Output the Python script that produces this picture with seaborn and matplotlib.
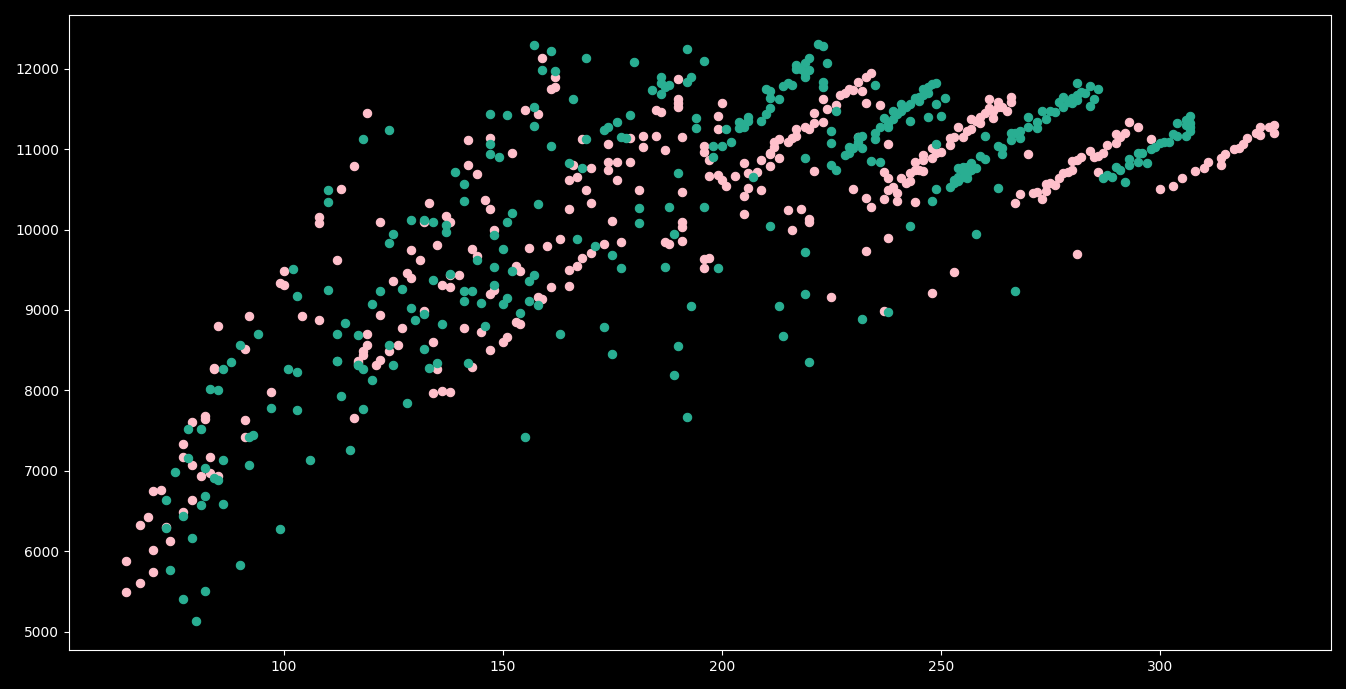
import matplotlib
matplotlib.use("Agg")
import matplotlib.pyplot as plt
import pandas as pd
import seaborn as sns

# values: (x, y)
pink_points = [
    (64, 5493), (64, 5880), (67, 5607), (70, 5740), (70, 6017), (67, 6330), (69, 6420), (70, 6750),
    (72, 6760), (74, 6130), (73, 6300), (77, 6490), (79, 6640), (81, 6930), (85, 6940), (83, 6970),
    (79, 7070), (77, 7170), (83, 7170), (77, 7330), (91, 7420), (91, 7630), (79, 7610), (82, 7650),
    (82, 7680), (97, 7980), (84, 8280), (91, 8520), (116, 7660), (117, 8340), (119, 11450), (116, 10790),
    (113, 10500), (108, 10160), (108, 10080), (122, 10100), (133, 10330), (142, 11110), (147, 11140),
    (155, 11490), (158, 11440), (152, 10950), (142, 10800), (144, 10690), (146, 10370), (147, 10250),
    (137, 10170), (138, 10100), (132, 10100), (112, 9620), (135, 9810), (129, 9740), (131, 9620),
    (143, 9760), (148, 9990), (156, 9770), (160, 9790), (144, 9670), (128, 9460), (129, 9400),
    (125, 9360), (136, 9310), (138, 9290), (140, 9440), (138, 9440), (153, 9550), (154, 9490),
    (147, 9200), (148, 9250), (104, 8930), (108, 8880), (122, 8940), (132, 8990), (127, 8780),
    (141, 8770), (145, 8730), (153, 8850), (154, 8830), (158, 9160), (159, 9140), (161, 9280),
    (119, 8700), (119, 8570), (118, 8490), (118, 8440), (117, 8370), (126, 8560), (124, 8490),
    (122, 8380), (121, 8310), (134, 8600), (151, 8670), (150, 8600), (147, 8500), (143, 8290),
    (135, 8260), (134, 7970), (136, 7990), (138, 7980), (99, 9340), (100, 9490), (100, 9310),
    (92, 8920), (85, 8800), (84, 8270), (159, 12130), (162, 11900), (162, 11770), (161, 11750),
    (168, 11130), (179, 11140), (182, 11160), (185, 11160), (182, 11030), (174, 11060), (187, 10990),
    (191, 11150), (190, 11870), (190, 11630), (190, 11580), (190, 11530), (185, 11490), (186, 11460),
    (200, 11570), (199, 11410), (199, 11250), (196, 11040), (196, 10970), (197, 10870), (197, 10670),
    (199, 10680), (200, 10620), (201, 10540), (203, 10670), (205, 10830), (206, 10700), (208, 10720),
    (209, 10860), (211, 10950), (211, 10790), (206, 10520), (205, 10420), (209, 10490), (205, 10200),
    (166, 10800), (170, 10770), (174, 10840), (176, 10840), (179, 10840), (174, 10740), (165, 10620),
    (167, 10660), (176, 10620), (169, 10490), (181, 10490), (191, 10470), (170, 10330), (165, 10260),
    (175, 10110), (191, 10100), (191, 10030), (163, 9880), (177, 9850), (173, 9820), (170, 9710),
    (168, 9650), (167, 9550), (165, 9500), (165, 9300), (187, 9850), (188, 9820), (191, 9860),
    (196, 9640), (197, 9650), (196, 9520), (213, 10890), (211, 10940), (212, 11030), (212, 11090),
    (213, 11130), (215, 11090), (216, 11140), (217, 11250), (217, 11170), (219, 11280), (220, 11250),
    (221, 11450), (221, 11330), (223, 11340), (223, 11630), (224, 11500), (226, 11550), (227, 11670),
    (228, 11700), (229, 11750), (230, 11740), (231, 11830), (232, 11720), (233, 11900), (234, 11950),
    (233, 11580), (236, 11550), (231, 11150), (238, 11070), (215, 10240), (218, 10260), (220, 10130),
    (220, 10090), (216, 9990), (221, 10730), (230, 10500), (233, 10390), (234, 10280), (238, 9900),
    (237, 10380), (240, 10350), (244, 10340), (237, 10720), (238, 10640), (239, 10530), (238, 10490),
    (240, 10460), (241, 10640), (242, 10580), (243, 10610), (243, 10710), (244, 10840), (244, 10740),
    (246, 10730), (245, 10740), (246, 10930), (246, 10870), (248, 11020), (248, 10890), (250, 10970),
    (249, 10950), (252, 11050), (253, 11150), (252, 11140), (255, 11150), (254, 11280), (257, 11370),
    (257, 11250), (259, 11330), (259, 11400), (261, 11630), (261, 11510), (262, 11390), (263, 11590),
    (263, 11530), (265, 11480), (266, 11650), (266, 11590), (258, 11350), (260, 11450), (262, 11470),
    (256, 11230), (264, 11530), (270, 10940), (267, 10330), (268, 10440), (271, 10460), (272, 10470),
    (273, 10380), (274, 10480), (274, 10570), (275, 10580), (276, 10560), (277, 10640), (278, 10700),
    (279, 10720), (280, 10740), (280, 10850), (281, 10870), (282, 10900), (284, 10980), (285, 10900),
    (286, 10910), (287, 10950), (288, 11050), (290, 11080), (290, 11190), (291, 11150), (292, 11200),
    (293, 11340), (295, 11280), (286, 10720), (298, 11130), (300, 10510), (303, 10540), (305, 10640),
    (308, 10730), (310, 10770), (311, 10840), (314, 10800), (314, 10890), (315, 10940), (317, 11000),
    (318, 11010), (319, 11070), (320, 11140), (322, 11200), (323, 11280), (323, 11180), (325, 11270),
    (326, 11300), (326, 11200), (237, 8990), (225, 9160), (253, 9470), (248, 9210), (281, 9700),
    (233, 9730),
]

teal_points = [
    (80, 5130), (77, 5400), (82, 5510), (74, 5770), (90, 5830), (99, 6270), (79, 6170), (73, 6290),
    (77, 6440), (81, 6570), (86, 6590), (82, 6690), (73, 6640), (85, 6890), (84, 6910), (75, 6980),
    (82, 7030), (78, 7160), (86, 7140), (92, 7070), (106, 7140), (115, 7260), (78, 7520), (81, 7520),
    (92, 7420), (93, 7440), (97, 7780), (103, 7750), (113, 7930), (83, 8020), (85, 8010), (86, 8270),
    (88, 8350), (90, 8560), (101, 8270), (103, 8230), (112, 8370), (117, 8320), (118, 7770), (94, 8700),
    (124, 11240), (118, 11130), (110, 10490), (110, 10340), (147, 11440), (151, 11420), (157, 11520),
    (157, 11290), (147, 11070), (147, 10940), (149, 10900), (161, 11040), (139, 10720), (141, 10570),
    (141, 10360), (158, 10320), (152, 10210), (151, 10100), (129, 10120), (132, 10120), (134, 10100),
    (137, 10060), (137, 9970), (125, 9950), (124, 9830), (148, 9930), (150, 9760), (144, 9620),
    (148, 9530), (152, 9480), (157, 9430), (156, 9360), (138, 9450), (134, 9370), (148, 9310),
    (122, 9240), (127, 9260), (110, 9250), (103, 9180), (102, 9510), (120, 9080), (141, 9240),
    (143, 9240), (141, 9110), (145, 9090), (151, 9150), (150, 9070), (156, 9110), (158, 9060),
    (114, 8840), (112, 8700), (117, 8690), (112, 8370), (117, 8320), (118, 8260), (120, 8130),
    (125, 8320), (124, 8570), (132, 8520), (136, 8830), (132, 8950), (129, 9030), (130, 8880),
    (146, 8800), (135, 8340), (133, 8280), (142, 8340), (128, 7840), (155, 7420), (154, 8960),
    (163, 8700), (157, 12290), (161, 12220), (159, 11990), (162, 11970), (169, 12130), (180, 12080),
    (192, 12250), (196, 12100), (166, 11630), (186, 11900), (186, 11820), (187, 11770), (188, 11800),
    (184, 11730), (186, 11690), (193, 11900), (192, 11840), (179, 11430), (176, 11340), (174, 11280),
    (173, 11240), (169, 11130), (177, 11150), (178, 11140), (194, 11390), (194, 11260), (201, 11250),
    (198, 11040), (200, 11040), (202, 11090), (198, 10900), (165, 10830), (168, 10770), (190, 10700),
    (207, 10650), (181, 10270), (181, 10080), (188, 10280), (196, 10280), (189, 9950), (167, 9880),
    (171, 9790), (175, 9680), (177, 9520), (187, 9530), (199, 9520), (211, 10050), (206, 11400),
    (204, 11340), (204, 11260), (205, 11280), (206, 11350), (205, 11310), (209, 11350), (210, 11440),
    (210, 11750), (211, 11640), (211, 11510), (222, 12310), (223, 12280), (224, 12070), (220, 12130),
    (219, 12070), (217, 12050), (217, 12000), (218, 12000), (219, 11950), (220, 11980), (219, 11900),
    (223, 11830), (223, 11770), (215, 11820), (214, 11790), (216, 11800), (211, 11720), (213, 11620),
    (226, 11480), (235, 11800), (225, 11220), (225, 11080), (219, 10890), (225, 10800), (226, 10740),
    (243, 10050), (258, 9940), (248, 10360), (249, 10500), (263, 10520), (260, 11170), (249, 11070),
    (243, 11350), (247, 11400), (250, 11410), (249, 11560), (251, 11640), (228, 10930), (229, 10950),
    (229, 11030), (230, 11020), (231, 11090), (232, 11020), (231, 11150), (232, 11170), (234, 10850),
    (236, 10840), (235, 11130), (235, 11200), (236, 11280), (237, 11390), (238, 11280), (239, 11480),
    (239, 11380), (241, 11560), (241, 11480), (243, 11560), (244, 11640), (245, 11650), (246, 11750),
    (247, 11700), (247, 11770), (248, 11810), (249, 11820), (242, 11520), (245, 11600), (246, 11680),
    (240, 11440), (238, 11330), (252, 10530), (253, 10580), (254, 10770), (255, 10780), (254, 10660),
    (255, 10660), (256, 10640), (257, 10830), (257, 10740), (258, 10770), (259, 10920), (260, 10880),
    (254, 10600), (255, 10720), (256, 10700), (256, 10780), (253, 10620), (263, 11040), (264, 11020),
    (264, 10940), (266, 11116), (266, 11200), (268, 11230), (268, 11140), (267, 11200), (270, 11400),
    (270, 11280), (272, 11340), (272, 11260), (273, 11480), (274, 11380), (275, 11470), (276, 11460),
    (277, 11590), (278, 11650), (278, 11520), (279, 11590), (280, 11640), (281, 11610), (281, 11820),
    (282, 11710), (283, 11700), (284, 11790), (286, 11750), (285, 11630), (284, 11540), (280, 11570),
    (281, 11680), (287, 10640), (288, 10680), (289, 10660), (290, 10780), (291, 10740), (293, 10880),
    (293, 10800), (295, 10950), (295, 10840), (296, 10950), (297, 10830), (292, 10590), (298, 11000),
    (299, 11030), (300, 11080), (301, 11090), (302, 11090), (303, 11190), (304, 11160), (306, 11170),
    (307, 11230), (306, 11300), (304, 11320), (307, 11410), (307, 11330), (306, 11360), (307, 11280),
    (238, 8970), (232, 8890), (267, 9230), (219, 9720), (219, 9200), (213, 9050), (214, 8680),
    (220, 8350), (193, 9050), (190, 8550), (189, 8190), (192, 7670), (175, 8450), (173, 8790),
]

pink_df = pd.DataFrame(pink_points, columns=["x", "y"])
teal_df = pd.DataFrame(teal_points, columns=["x", "y"])

plt.style.use("dark_background")
fig, ax = plt.subplots(figsize=(13.46, 6.89), dpi=100)
fig.subplots_adjust(left=69 / 1346, right=1331 / 1346, top=1 - 15 / 689, bottom=1 - 650 / 689)

sns.scatterplot(data=pink_df, x="x", y="y", ax=ax, color="pink", edgecolor="pink", linewidth=0.8, s=36)
sns.scatterplot(data=teal_df, x="x", y="y", ax=ax, color="#29AE92", edgecolor="#29AE92", linewidth=0.8, s=36)

ax.set_xlabel("")
ax.set_ylabel("")

fig.savefig("out.png", dpi=100)
